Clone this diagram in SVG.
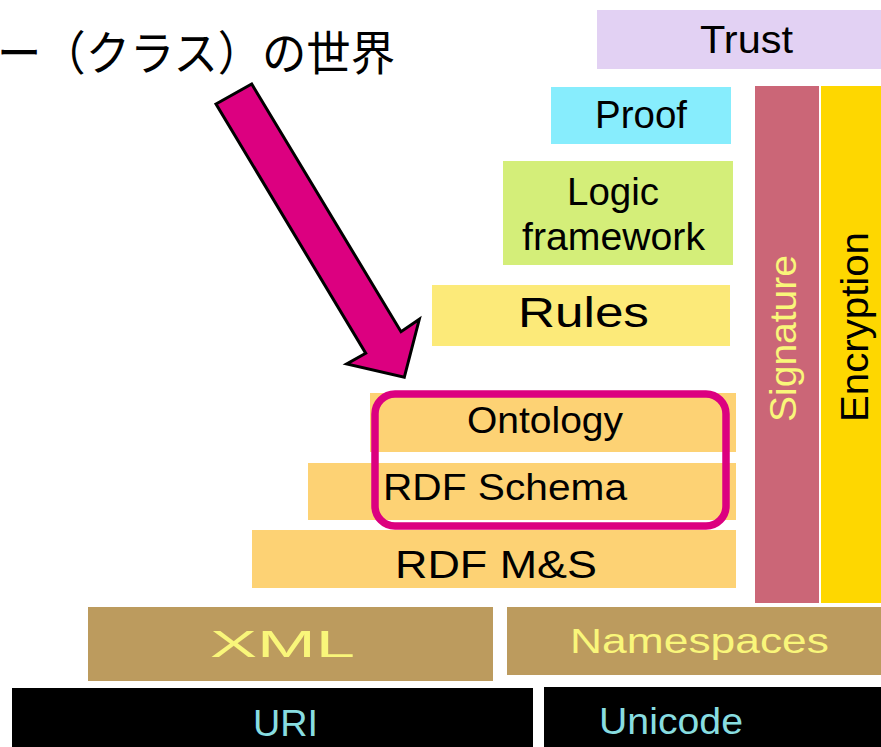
<svg xmlns="http://www.w3.org/2000/svg" width="881" height="747" viewBox="0 0 881 747">
  <style>
    .lbl { font-family: "Liberation Sans", Arial, Helvetica, sans-serif; fill: #000; }
    .yel { fill: #f9f67a; }
    .cyan { fill: #88dde0; }
    .jp { font-family: "Noto Sans CJK JP", "Noto Sans CJK SC", sans-serif; fill: #000; }
    .rdf { fill: #fdd274; }
  </style>
  <rect width="881" height="747" fill="#ffffff"/>

  <!-- heading (runs in from the left edge) -->
  <g id="heading">
    <text class="jp" x="-3" y="70" font-size="47" textLength="398" lengthAdjust="spacingAndGlyphs">ー（クラス）の世界</text>
  </g>

  <!-- layer stack -->
  <g id="trust">
    <rect x="597" y="10" width="284" height="59" fill="#e2d1f3"/>
    <text class="lbl" x="700" y="53" font-size="38" textLength="93" lengthAdjust="spacingAndGlyphs">Trust</text>
  </g>
  <g id="proof">
    <rect x="551" y="87" width="180" height="57" fill="#87edfd"/>
    <text class="lbl" x="595" y="128" font-size="38" textLength="92" lengthAdjust="spacingAndGlyphs">Proof</text>
  </g>
  <g id="logic">
    <rect x="503" y="161" width="230" height="104" fill="#d4ee79"/>
    <text class="lbl" x="567" y="205" font-size="38" textLength="92" lengthAdjust="spacingAndGlyphs">Logic</text>
    <text class="lbl" x="522" y="250" font-size="38" textLength="183" lengthAdjust="spacingAndGlyphs">framework</text>
  </g>
  <g id="rules">
    <rect x="432" y="285" width="298" height="61" fill="#fcea79"/>
    <text class="lbl" x="518" y="327" font-size="42" textLength="131" lengthAdjust="spacingAndGlyphs">Rules</text>
  </g>
  <g id="ontology">
    <rect class="rdf" x="370" y="393" width="366" height="59"/>
    <text class="lbl" x="467" y="433" font-size="37" textLength="156" lengthAdjust="spacingAndGlyphs">Ontology</text>
  </g>
  <g id="rdf-schema">
    <rect class="rdf" x="308" y="463" width="428" height="57"/>
    <text class="lbl" x="383" y="500" font-size="37" textLength="244" lengthAdjust="spacingAndGlyphs">RDF Schema</text>
  </g>
  <g id="rdf-ms">
    <rect class="rdf" x="252" y="530" width="484" height="58"/>
    <text class="lbl" x="395" y="578" font-size="39" textLength="202" lengthAdjust="spacingAndGlyphs">RDF M&amp;S</text>
  </g>
  <g id="signature">
    <rect x="755" y="86" width="64" height="517" fill="#cb6677"/>
    <text class="lbl yel" transform="translate(796,422) rotate(-90)" font-size="37" textLength="167" lengthAdjust="spacingAndGlyphs">Signature</text>
  </g>
  <g id="encryption">
    <rect x="821" y="86" width="60" height="517" fill="#fed700"/>
    <text class="lbl" transform="translate(868,422) rotate(-90)" font-size="38" textLength="190" lengthAdjust="spacingAndGlyphs">Encryption</text>
  </g>
  <g id="xml">
    <rect x="88" y="607" width="405" height="74" fill="#bc9b5e"/>
    <text class="lbl yel" x="210" y="657" font-size="36" textLength="145" lengthAdjust="spacingAndGlyphs">XML</text>
  </g>
  <g id="namespaces">
    <rect x="507" y="607" width="374" height="68" fill="#bc9b5e"/>
    <text class="lbl yel" x="570" y="653" font-size="35" textLength="259" lengthAdjust="spacingAndGlyphs">Namespaces</text>
  </g>
  <g id="uri">
    <rect x="12" y="688" width="521" height="59" fill="#000"/>
    <text class="lbl cyan" x="253" y="736" font-size="36" textLength="65" lengthAdjust="spacingAndGlyphs">URI</text>
  </g>
  <g id="unicode">
    <rect x="544" y="687" width="337" height="60" fill="#000"/>
    <text class="lbl cyan" x="599" y="734" font-size="36" textLength="144" lengthAdjust="spacingAndGlyphs">Unicode</text>
  </g>

  <!-- highlight around Ontology + RDF Schema -->
  <g id="highlight">
    <rect x="375" y="394" width="351" height="132" rx="20" ry="20" fill="none" stroke="#dc0080" stroke-width="7.5"/>
  </g>

  <!-- pointer arrow -->
  <g id="connectors">
    <polygon points="216,104 251.7,84 401,331.7 419.3,319.3 404.3,377.3 346.7,364 365.7,353.3" fill="#dc0080" stroke="#000" stroke-width="3" stroke-linejoin="miter"/>
  </g>
</svg>
